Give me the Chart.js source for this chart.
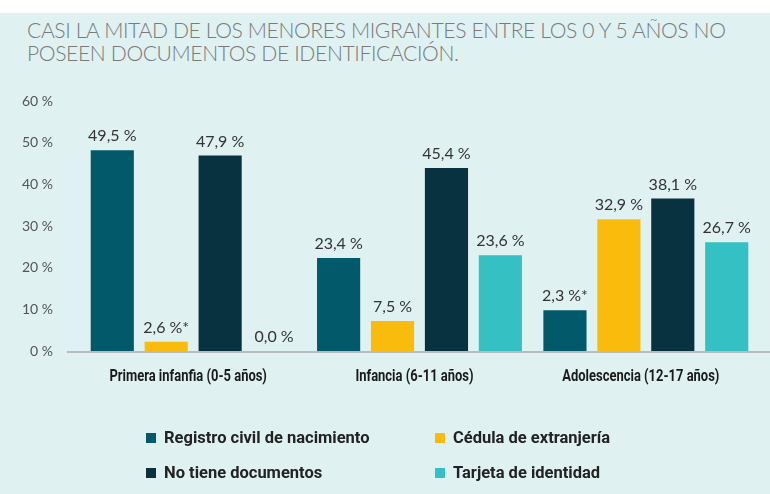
<!DOCTYPE html>
<html><head><meta charset="utf-8">
<script src="https://cdn.jsdelivr.net/npm/chart.js@4/dist/chart.umd.min.js"></script>
<style>
html,body{margin:0;padding:0;background:#fff;}
#wrap{position:relative;width:770px;height:494px;overflow:hidden;background:#fff;}
#bg{position:absolute;left:0;top:13px;width:770px;height:481px;background:#DFF1F1;}
#title{position:absolute;left:27px;top:18px;font-family:Lato,sans-serif;font-weight:300;font-size:22px;line-height:23px;color:#7a7a7a;letter-spacing:-0.4px;white-space:nowrap;transform:scaleX(0.96);transform-origin:0 0;}
#c{position:absolute;left:0;top:0;}
.lg{position:absolute;font-family:Roboto,sans-serif;font-weight:700;font-size:16.5px;color:#222;white-space:nowrap;line-height:18px;}
.sw{position:absolute;width:10px;height:10px;}
</style></head>
<body>
<div id="wrap">
<div id="bg"></div>
<div id="title">CASI LA MITAD DE LOS MENORES MIGRANTES ENTRE LOS 0 Y 5 AÑOS NO<br>POSEEN DOCUMENTOS DE IDENTIFICACIÓN.</div>
<canvas id="c" width="770" height="494"></canvas>
<div id="legend"></div>
</div>
<script>
const categories = ['Primera infanfia (0-5 años)', 'Infancia (6-11 años)', 'Adolescencia (12-17 años)'];
const seriesNames = ['Registro civil de nacimiento', 'Cédula de extranjería', 'No tiene documentos', 'Tarjeta de identidad'];
const registro = [48.2, 22.3, 9.8];
const cedula = [2.2, 7.2, 31.6];
const noTiene = [46.9, 43.9, 36.6];
const tarjeta = [0, 23.0, 26.1];
const registroLabels = ['49,5 %', '23,4 %', '2,3 %*'];
const cedulaLabels = ['2,6 %*', '7,5 %', '32,9 %'];
const noTieneLabels = ['47,9 %', '45,4 %', '38,1 %'];
const tarjetaLabels = ['0,0 %', '23,6 %', '26,7 %'];
const yTickValues = [0, 10, 20, 30, 40, 50, 60];

const colors = ['#02596A', '#F9BC0C', '#083240', '#35C0C3'];
const seriesData = [registro, cedula, noTiene, tarjeta];
const seriesLabels = [registroLabels, cedulaLabels, noTieneLabels, tarjetaLabels];

// HTML legend in 2x2 grid
const legendPos = [[146, 438], [435, 438], [146, 473], [435, 473]];
const lg = document.getElementById('legend');
seriesNames.forEach((n, i) => {
  const [x, y] = legendPos[i];
  const sw = document.createElement('div');
  sw.className = 'sw'; sw.style.left = x + 'px'; sw.style.top = (y - 5) + 'px'; sw.style.background = colors[i];
  lg.appendChild(sw);
  const t = document.createElement('div');
  t.className = 'lg'; t.style.left = (x + 18) + 'px'; t.style.top = (y - 9) + 'px'; t.textContent = n;
  lg.appendChild(t);
});

const baseline = {
  id: 'baseline',
  afterDatasetsDraw(chart) {
    const ctx = chart.ctx; const y = chart.scales.y.getPixelForValue(0);
    ctx.save(); ctx.strokeStyle = '#b8bcbc'; ctx.lineWidth = 2;
    ctx.beginPath(); ctx.moveTo(67, y + 1); ctx.lineTo(770, y + 1); ctx.stroke(); ctx.restore();
  }
};
const valueLabels = {
  id: 'valueLabels',
  afterDatasetsDraw(chart) {
    const ctx = chart.ctx; ctx.save();
    ctx.font = '16px Lato, sans-serif'; ctx.fillStyle = '#333'; ctx.textAlign = 'center'; ctx.textBaseline = 'middle';
    chart.data.datasets.forEach((ds, di) => {
      chart.getDatasetMeta(di).data.forEach((el, i) => {
        ctx.fillText(seriesLabels[di][i], el.x, el.y - 14);
      });
    });
    ctx.restore();
  }
};
// condensed bold category labels
const catLabels = {
  id: 'catLabels',
  afterDraw(chart) {
    const ctx = chart.ctx; const xs = chart.scales.x;
    ctx.save();
    ctx.font = 'bold 16px Roboto, sans-serif'; ctx.fillStyle = '#1a1a1a'; ctx.textAlign = 'center'; ctx.textBaseline = 'middle';
    categories.forEach((c, i) => {
      const x = xs.getPixelForTick(i);
      ctx.save(); ctx.translate(x - 5, 377); ctx.scale(0.81, 1); ctx.fillText(c, 0, 0); ctx.restore();
    });
    ctx.restore();
  }
};

new Chart(document.getElementById('c'), {
  type: 'bar',
  data: {
    labels: categories,
    datasets: seriesNames.map((n, i) => ({
      label: n, data: seriesData[i], backgroundColor: colors[i], borderWidth: 0,
      categoryPercentage: 0.953, barPercentage: 0.8
    }))
  },
  options: {
    responsive: false, animation: false,
    layout: { padding: { top: 101, left: 0, right: 11, bottom: 0 } },
    plugins: { legend: { display: false }, tooltip: { enabled: false } },
    scales: {
      x: {
        grid: { display: false, drawTicks: false }, border: { display: false },
        ticks: { display: false },
        afterFit(s) { s.height = 143; s.paddingLeft = 0; s.paddingRight = 0; }
      },
      y: {
        min: 0, max: 60,
        afterBuildTicks(s) { s.ticks = yTickValues.map(v => ({ value: v })); },
        grid: { display: false, drawTicks: false }, border: { display: false },
        ticks: { padding: 27, color: '#555', font: { family: 'Lato, sans-serif', size: 14 }, callback: v => v + ' %' },
        afterFit(s) { s.width = 80; s.paddingTop = 0; s.paddingBottom = 0; }
      }
    }
  },
  plugins: [baseline, valueLabels, catLabels]
});
</script>
</body></html>
